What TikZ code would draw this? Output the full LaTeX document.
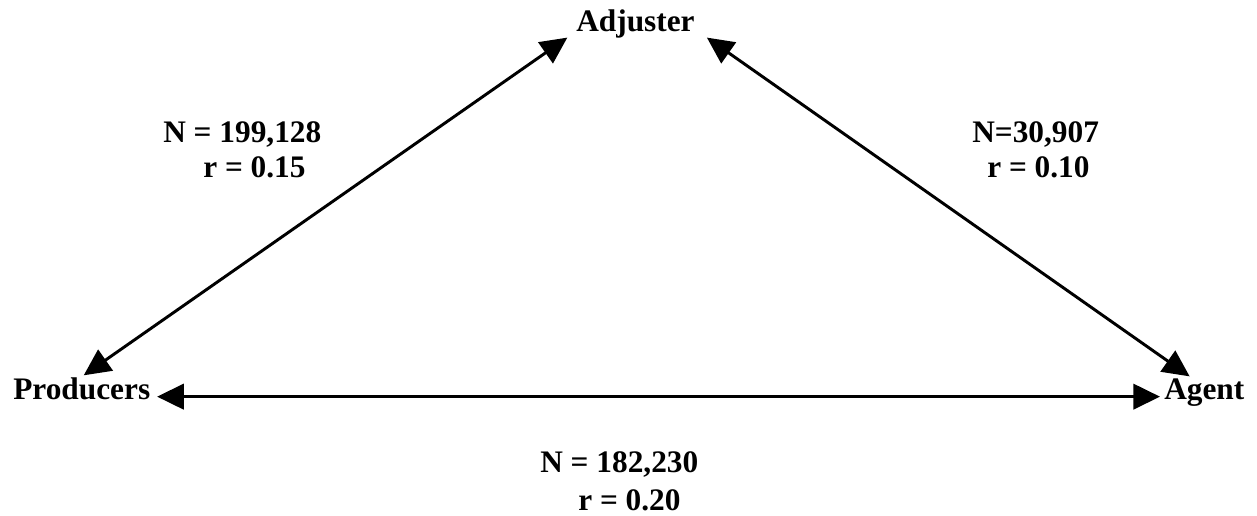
\documentclass[tikz,border=0pt]{standalone}
\usepackage{fontspec}
\setmainfont{Liberation Serif}
\usetikzlibrary{arrows.meta}
\begin{document}
\begin{tikzpicture}[x=0.75pt,y=-0.75pt,
  lbl/.style={font=\fontsize{23.5pt}{26pt}\selectfont\bfseries, inner sep=3pt, anchor=base west},
  txt/.style={font=\fontsize{23.5pt}{26pt}\selectfont\bfseries, inner sep=0pt, anchor=base west},
  conn/.style={line width=2.2pt, {Triangle[length=20pt,width=19pt]}-{Triangle[length=20pt,width=19pt]}}]
\fill[white] (0,0) rectangle (1257,516);
\useasboundingbox (0,0) rectangle (1257,516);
\node[lbl] (adj) at (572,32) {Adjuster};
\node[lbl] (prod) at (9,400) {Producers};
\node[lbl] (agent) at (1160,400) {Agent};
\draw[conn] ([xshift=2pt,yshift=-5.5pt]prod.east) -- ([yshift=-5.5pt]prod.east -| agent.west);
\draw[conn] ([xshift=1.5pt,yshift=-1pt]prod.north) -- ([xshift=-3.5pt,yshift=4pt]adj.south west);
\draw[conn] ([xshift=6pt,yshift=4pt]adj.south east) -- ([xshift=-11pt,yshift=-1pt]agent.north);
\node[txt] (la1) at (163,143) {N = 199,128};
\node[txt] (la2) at (203,178) {r = 0.15};
\node[txt] (lb1) at (972,143) {N=30,907};
\node[txt] (lb2) at (987,178) {r = 0.10};
\node[txt] (lc1) at (540,473) {N = 182,230};
\node[txt] (lc2) at (578,510) {r = 0.20};
\end{tikzpicture}
\end{document}
